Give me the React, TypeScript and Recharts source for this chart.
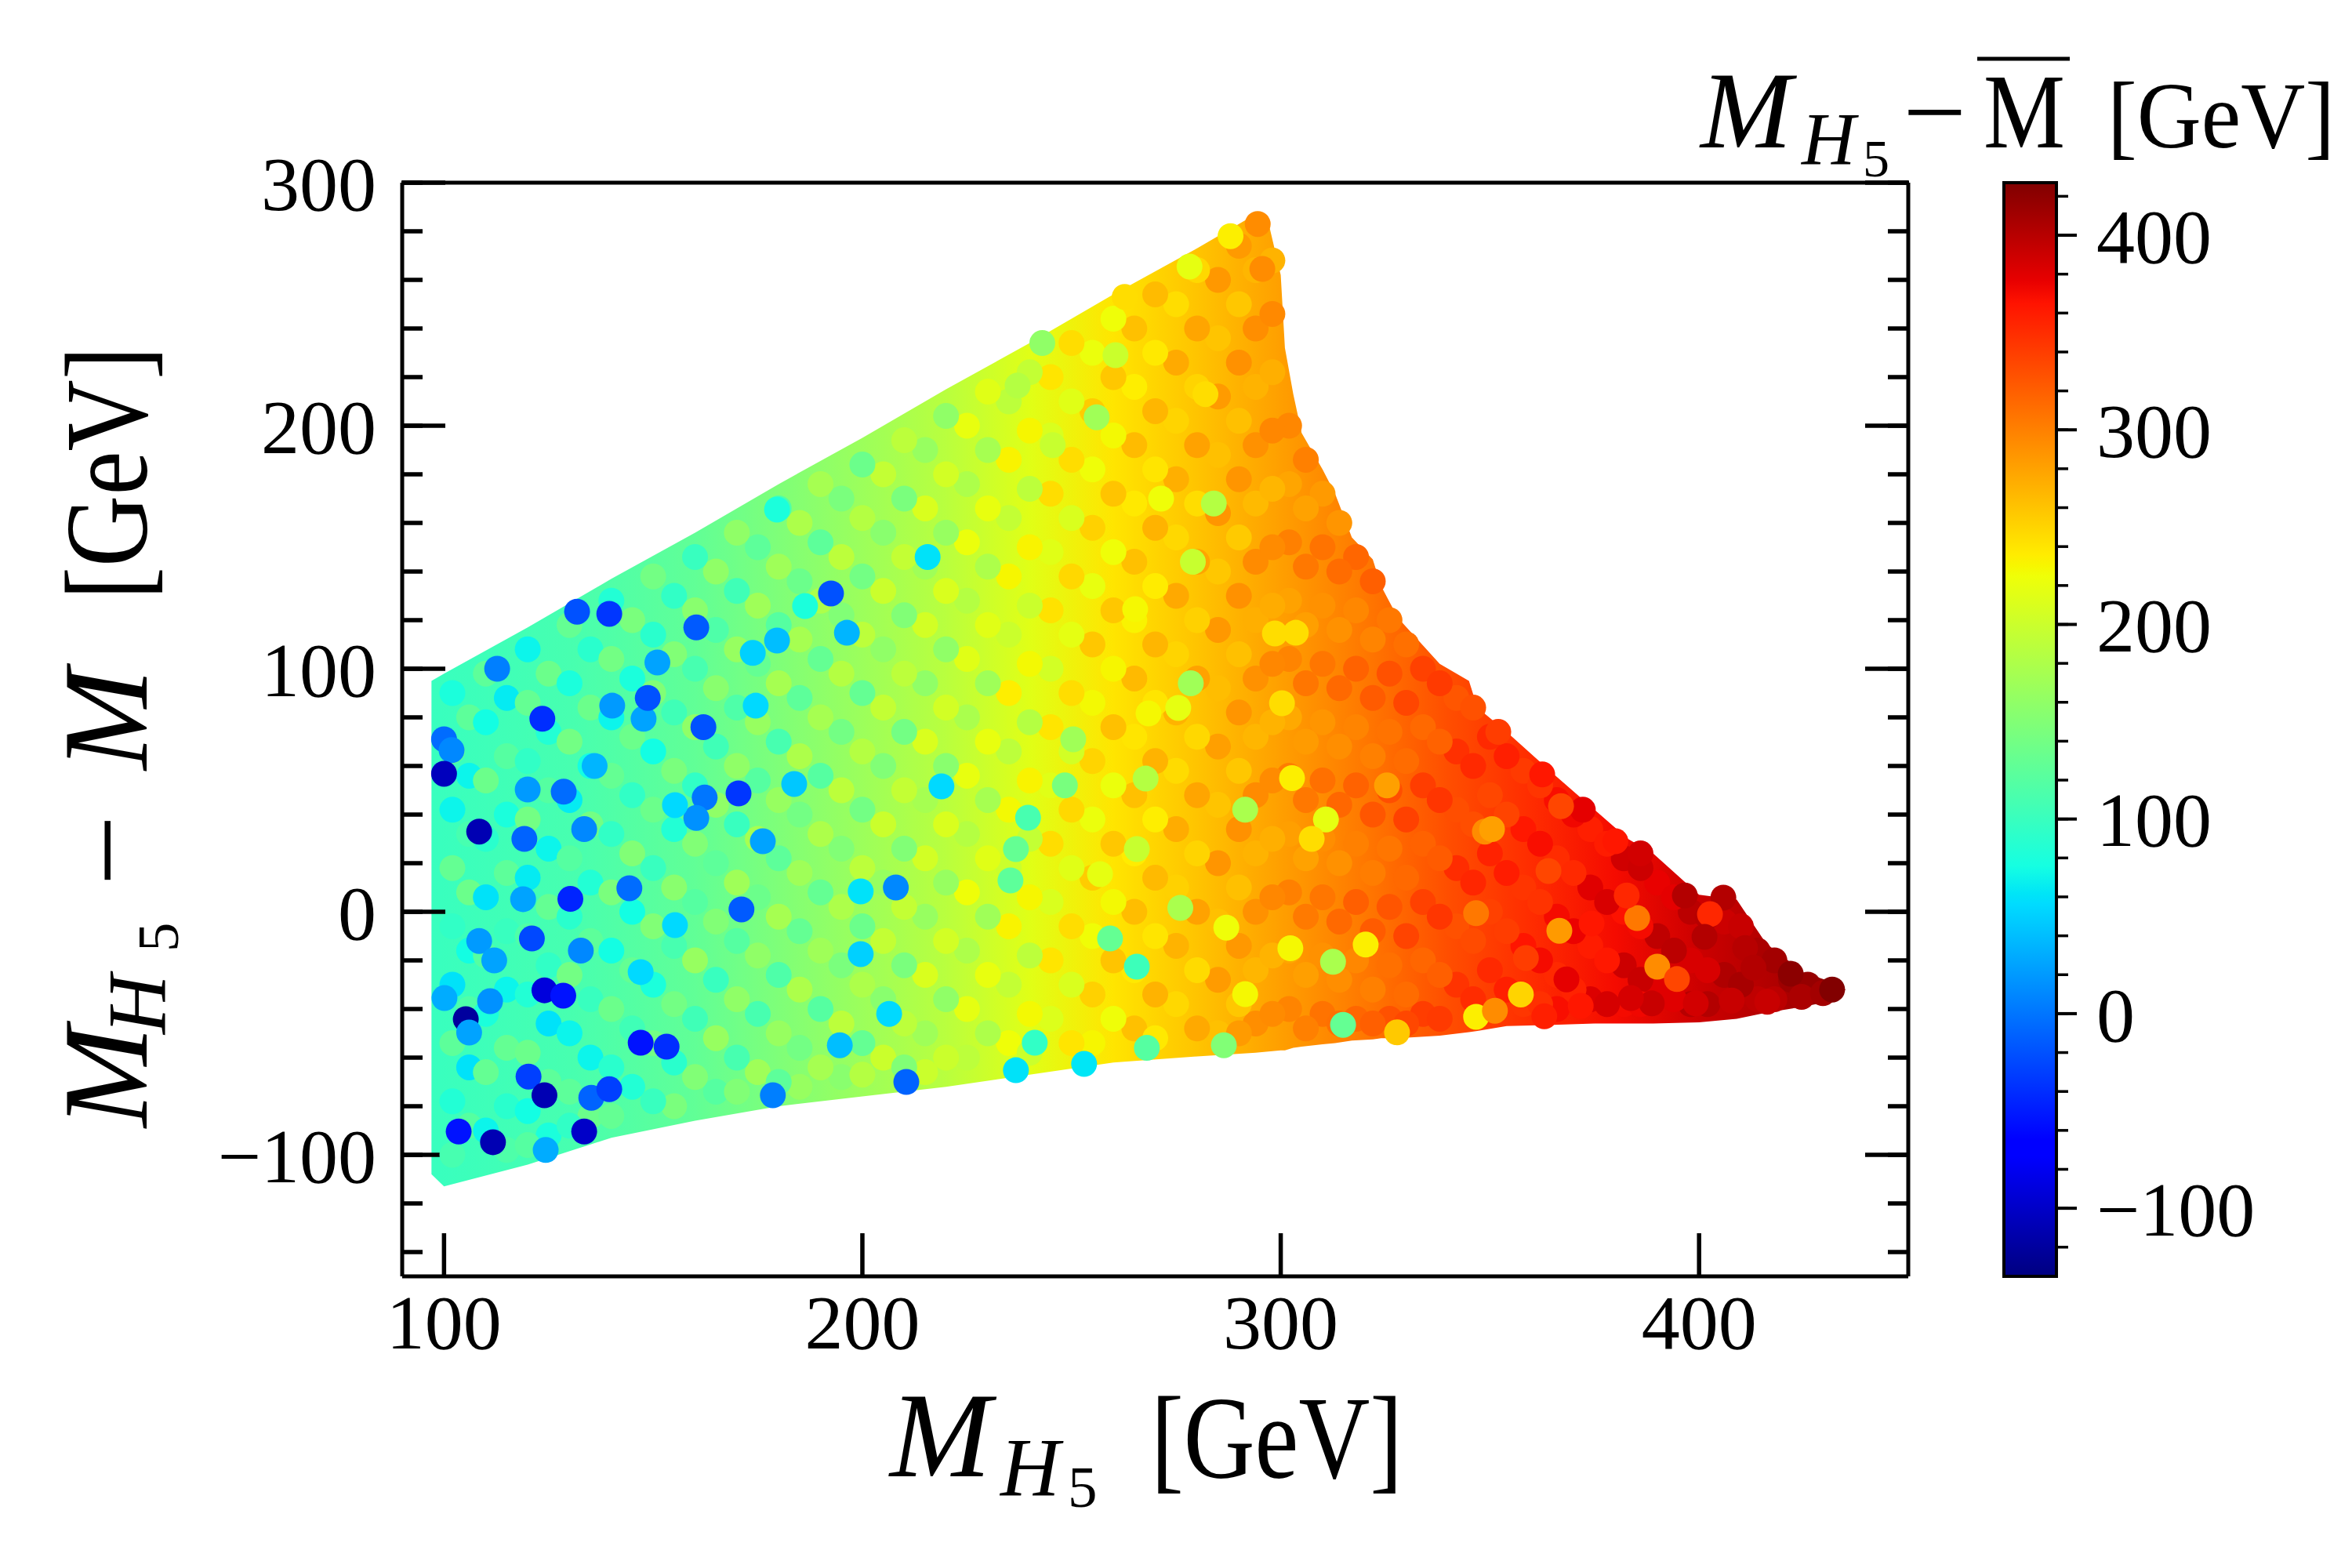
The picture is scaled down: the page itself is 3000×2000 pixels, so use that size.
import React from "react";
import { ComposedChart, Area, Scatter, XAxis, YAxis, ReferenceArea } from "recharts";

const FONT = "'Liberation Serif', 'DejaVu Serif', serif";

// colour bar limits
const CMIN = -135;
const CMAX = 427;

const xMajor = [100, 200, 300, 400];
const xMinor = [100, 120, 140, 160, 180, 200, 220, 240, 260, 280, 300, 320, 340, 360, 380, 400, 420, 440];
const yMajor = [-100, 0, 100, 200, 300];
const yMinor = [-140, -120, -100, -80, -60, -40, -20, 0, 20, 40, 60, 80, 100, 120, 140, 160, 180, 200, 220, 240, 260, 280, 300];
const cbMajor = [-100, 0, 100, 200, 300, 400];
const cbMinor = [-120, -100, -80, -60, -40, -20, 0, 20, 40, 60, 80, 100, 120, 140, 160, 180, 200, 220, 240, 260, 280, 300, 320, 340, 360, 380, 400, 420];

// outline of the populated region (M_H5, lower / upper edge)
const envX = [97, 100, 120, 140, 160, 180, 200, 220, 240, 260, 280, 294, 297, 300, 301, 303, 305, 310, 313, 317, 322, 324, 328, 338, 345, 347, 354, 365, 375, 383, 389, 400, 409, 416, 425, 432, 435];
const envHigh = [95, 98, 117, 137, 156, 176, 195, 215, 234, 254, 273, 287, 284, 262, 232, 213, 197, 182, 172, 154, 145, 134, 121, 102, 95, 84, 74, 57, 42, 30, 24, 7, 5, -13, -25, -29, -32];
const envLow = [-108, -113, -104, -93, -86, -80, -76, -72, -67, -62, -59.5, -58, -57.5, -57, -57, -56, -55.5, -54.5, -54, -53, -52.5, -52, -52, -51, -49.5, -49, -47, -46.5, -46, -46, -46, -45.5, -44, -41.5, -39, -36.5, -32];

// typical colour value across M_H5
const bgX = [97, 130, 160, 200, 220, 240, 260, 280, 300, 320, 340, 360, 380, 400, 420, 435];
const bgC = [100, 110, 128, 168, 188, 215, 240, 260, 282, 305, 330, 350, 370, 390, 405, 425];

// [M_H5, M_H5 - M, colour]
const fillPts = [
  [106, 80, 125], [106, 56, 70], [106, 32, 110], [106, 8, 135], [106, -16, 75], [106, -40, 115], [106, -64, 60], [106, -88, 120],
  [115, 88, 65], [115, 64, 120], [115, 40, 80], [115, 16, 125], [115, -8, 100], [115, -32, 70], [115, -56, 130], [115, -80, 90], [115, -98, 115],
  [125, 98, 135], [125, 74, 85], [125, 50, 120], [125, 26, 70], [125, 2, 130], [125, -22, 95], [125, -46, 60], [125, -70, 125], [125, -92, 80],
  [135, 108, 90], [135, 84, 135], [135, 60, 75], [135, 36, 140], [135, 12, 85], [135, -12, 125], [135, -36, 100], [135, -60, 70], [135, -84, 135],
  [145, 120, 145], [145, 96, 80], [145, 72, 135], [145, 48, 95], [145, 24, 150], [145, 0, 75], [145, -24, 130], [145, -48, 105], [145, -72, 85],
  [155, 130, 95], [155, 106, 150], [155, 82, 105], [155, 58, 145], [155, 34, 85], [155, 10, 155], [155, -14, 110], [155, -38, 140], [155, -62, 90], [155, -80, 145],
  [165, 140, 160], [165, 116, 115], [165, 92, 155], [165, 68, 105], [165, 44, 160], [165, 20, 125], [165, -4, 150], [165, -28, 100], [165, -52, 165], [165, -74, 120],
  [175, 150, 125], [175, 126, 170], [175, 102, 130], [175, 78, 165], [175, 54, 120], [175, 30, 175], [175, 6, 135], [175, -18, 160], [175, -42, 110], [175, -66, 170],
  [185, 160, 180], [185, 136, 135], [185, 112, 175], [185, 88, 125], [185, 64, 180], [185, 40, 140], [185, 16, 170], [185, -8, 130], [185, -32, 180], [185, -56, 140], [185, -72, 165],
  [195, 170, 145], [195, 146, 190], [195, 122, 150], [195, 98, 185], [195, 74, 140], [195, 50, 190], [195, 26, 150], [195, 2, 180], [195, -22, 145], [195, -46, 190], [195, -68, 155],
  [205, 180, 195], [205, 156, 155], [205, 132, 200], [205, 108, 160], [205, 84, 195], [205, 60, 150], [205, 36, 200], [205, 12, 165], [205, -12, 195], [205, -36, 155], [205, -60, 200],
  [215, 190, 165], [215, 166, 210], [215, 142, 170], [215, 118, 205], [215, 94, 160], [215, 70, 210], [215, 46, 175], [215, 22, 205], [215, -2, 165], [215, -26, 210], [215, -50, 170], [215, -66, 200],
  [225, 200, 220], [225, 176, 180], [225, 152, 222], [225, 128, 185], [225, 104, 215], [225, 80, 178], [225, 56, 220], [225, 32, 185], [225, 8, 225], [225, -16, 180], [225, -40, 218], [225, -60, 190],
  [235, 210, 190], [235, 186, 232], [235, 162, 195], [235, 138, 230], [235, 114, 200], [235, 90, 235], [235, 66, 190], [235, 42, 228], [235, 18, 200], [235, -6, 232], [235, -30, 195], [235, -54, 225],
  [245, 220, 240], [245, 196, 210], [245, 172, 245], [245, 148, 215], [245, 124, 242], [245, 100, 205], [245, 76, 240], [245, 52, 215], [245, 28, 245], [245, 4, 210], [245, -20, 240], [245, -44, 212],
  [255, 230, 222], [255, 206, 255], [255, 182, 225], [255, 158, 252], [255, 134, 220], [255, 110, 258], [255, 86, 228], [255, 62, 250], [255, 38, 222], [255, 14, 255], [255, -10, 226], [255, -34, 252], [255, -54, 230],
  [265, 240, 262], [265, 216, 235], [265, 192, 265], [265, 168, 238], [265, 144, 262], [265, 120, 232], [265, 96, 266], [265, 72, 240], [265, 48, 262], [265, 24, 236], [265, 0, 264], [265, -24, 238], [265, -48, 262],
  [275, 250, 245], [275, 226, 275], [275, 202, 250], [275, 178, 272], [275, 154, 248], [275, 130, 276], [275, 106, 250], [275, 82, 270], [275, 58, 246], [275, 34, 274], [275, 10, 252], [275, -14, 270], [275, -38, 248],
  [285, 260, 286], [285, 236, 260], [285, 212, 284], [285, 188, 262], [285, 164, 288], [285, 140, 258], [285, 116, 286], [285, 92, 264], [285, 68, 282], [285, 44, 260], [285, 20, 288], [285, -4, 262], [285, -28, 284], [285, -50, 262],
  [294, 264, 268], [294, 240, 292], [294, 216, 270], [294, 192, 290], [294, 168, 266], [294, 144, 294], [294, 120, 272], [294, 96, 290], [294, 72, 268], [294, 48, 294], [294, 24, 270], [294, 0, 290], [294, -24, 268], [294, -46, 292],
  [302, 200, 296], [302, 176, 278], [302, 152, 300], [302, 128, 280], [302, 104, 298], [302, 80, 276], [302, 56, 302], [302, 32, 282], [302, 8, 300], [302, -16, 278], [302, -40, 298],
  [310, 172, 285], [310, 150, 308], [310, 126, 290], [310, 102, 306], [310, 78, 288], [310, 54, 310], [310, 30, 292], [310, 6, 306], [310, -18, 290], [310, -42, 308],
  [318, 146, 316], [318, 124, 296], [318, 100, 318], [318, 76, 298], [318, 52, 318], [318, 28, 300], [318, 4, 320], [318, -20, 296], [318, -44, 316],
  [326, 120, 305], [326, 98, 328], [326, 74, 308], [326, 50, 330], [326, 26, 306], [326, 2, 326], [326, -22, 310], [326, -44, 328],
  [334, 100, 338], [334, 76, 314], [334, 52, 340], [334, 28, 318], [334, 4, 338], [334, -20, 316], [334, -42, 340],
  [342, 88, 325], [342, 66, 348], [342, 42, 330], [342, 18, 350], [342, -6, 328], [342, -30, 346],
  [350, 72, 352], [350, 48, 334], [350, 24, 356], [350, 0, 338], [350, -24, 352], [350, -42, 340],
  [358, 58, 342], [358, 34, 362], [358, 10, 345], [358, -14, 364], [358, -38, 344],
  [366, 46, 368], [366, 22, 350], [366, -2, 370], [366, -26, 352], [366, -40, 368],
  [374, 34, 358], [374, 10, 380], [374, -14, 360], [374, -36, 382],
  [382, 22, 388], [382, 0, 366], [382, -22, 390], [382, -38, 370],
  [390, 12, 376], [390, -10, 396], [390, -32, 380],
  [398, 0, 398], [398, -20, 384], [398, -38, 400],
  [406, -4, 390], [406, -26, 404],
  [414, -16, 406], [414, -36, 396],
  [422, -28, 412],
];

const leftPts = [
  [102, 90, 80], [102, 66, 120], [102, 42, 70], [102, 18, 130], [102, -6, 95], [102, -30, 60], [102, -54, 125], [102, -78, 85], [102, -100, 110],
  [110, 98, 125], [110, 78, 75], [110, 54, 135], [110, 30, 90], [110, 6, 60], [110, -18, 120], [110, -42, 80], [110, -66, 130], [110, -90, 70],
  [120, 108, 70], [120, 86, 130], [120, 62, 95], [120, 38, 140], [120, 14, 65], [120, -10, 115], [120, -34, 85], [120, -58, 135], [120, -82, 75], [120, -96, 120],
  [130, 118, 130], [130, 94, 80], [130, 70, 140], [130, 46, 65], [130, 22, 120], [130, -2, 90], [130, -26, 140], [130, -50, 70], [130, -74, 125], [130, -88, 95],
  [140, 128, 85], [140, 104, 140], [140, 80, 70], [140, 56, 130], [140, 32, 95], [140, 8, 145], [140, -16, 75], [140, -40, 135], [140, -64, 90], [140, -84, 130],
  [150, 138, 140], [150, 114, 90], [150, 90, 150], [150, 66, 75], [150, 42, 135], [150, 18, 100], [150, -6, 150], [150, -30, 80], [150, -54, 140], [150, -78, 100],
];

const midPts = [
  [160, 146, 100], [160, 124, 155], [160, 100, 110], [160, 76, 160], [160, 52, 95], [160, 28, 150], [160, 4, 120], [160, -20, 165], [160, -44, 105], [160, -68, 150],
  [170, 156, 160], [170, 132, 105], [170, 108, 165], [170, 84, 115], [170, 60, 160], [170, 36, 100], [170, 12, 170], [170, -12, 120], [170, -36, 160], [170, -60, 110], [170, -74, 150],
  [180, 166, 115], [180, 142, 170], [180, 118, 120], [180, 94, 175], [180, 70, 110], [180, 46, 165], [180, 22, 125], [180, -2, 175], [180, -26, 115], [180, -50, 165], [180, -70, 125],
  [190, 176, 175], [190, 152, 125], [190, 128, 180], [190, 104, 130], [190, 80, 175], [190, 56, 120], [190, 32, 180], [190, 8, 130], [190, -16, 170], [190, -40, 120], [190, -64, 175],
  [200, 184, 135], [200, 162, 185], [200, 138, 140], [200, 114, 190], [200, 90, 130], [200, 66, 185], [200, 42, 140], [200, 18, 190], [200, -6, 135], [200, -30, 180], [200, -54, 130], [200, -67, 185],
  [210, 194, 190], [210, 170, 145], [210, 146, 195], [210, 122, 150], [210, 98, 190], [210, 74, 140], [210, 50, 195], [210, 26, 150], [210, 2, 195], [210, -22, 145], [210, -46, 190], [210, -64, 150],
  [220, 204, 160], [220, 180, 205], [220, 156, 165], [220, 132, 210], [220, 108, 160], [220, 84, 205], [220, 60, 155], [220, 36, 210], [220, 12, 165], [220, -12, 205], [220, -36, 160], [220, -60, 200],
  [230, 214, 215], [230, 190, 175], [230, 166, 220], [230, 142, 180], [230, 118, 215], [230, 94, 170], [230, 70, 220], [230, 46, 175], [230, 22, 215], [230, -2, 170], [230, -26, 220], [230, -50, 180],
  [240, 222, 195], [240, 198, 230], [240, 174, 190], [240, 150, 232], [240, 126, 200], [240, 102, 228], [240, 78, 185], [240, 54, 232], [240, 30, 195], [240, 6, 230], [240, -18, 190], [240, -42, 228], [240, -58, 200],
];

const upperPts = [
  [250, 234, 245], [250, 210, 215], [250, 186, 245], [250, 162, 210], [250, 138, 248], [250, 114, 218], [250, 90, 245], [250, 66, 205], [250, 42, 248], [250, 18, 215], [250, -6, 245], [250, -30, 210], [250, -54, 240],
  [260, 244, 225], [260, 220, 258], [260, 196, 228], [260, 172, 260], [260, 148, 225], [260, 124, 258], [260, 100, 230], [260, 76, 262], [260, 52, 222], [260, 28, 258], [260, 4, 228], [260, -20, 260], [260, -44, 225],
  [270, 254, 265], [270, 230, 238], [270, 206, 268], [270, 182, 240], [270, 158, 270], [270, 134, 236], [270, 110, 268], [270, 86, 240], [270, 62, 270], [270, 38, 235], [270, 14, 266], [270, -10, 240], [270, -34, 270], [270, -52, 238],
  [280, 264, 248], [280, 240, 278], [280, 216, 250], [280, 192, 280], [280, 168, 245], [280, 144, 278], [280, 120, 252], [280, 96, 280], [280, 72, 248], [280, 48, 278], [280, 24, 250], [280, 0, 280], [280, -24, 246], [280, -48, 276],
  [290, 274, 285], [290, 250, 258], [290, 226, 290], [290, 202, 262], [290, 178, 288], [290, 154, 256], [290, 130, 290], [290, 106, 262], [290, 82, 288], [290, 58, 258], [290, 34, 290], [290, 10, 262], [290, -14, 286], [290, -38, 258], [290, -50, 284],
  [298, 268, 270], [298, 246, 295], [298, 222, 272], [298, 198, 296], [298, 174, 268], [298, 150, 294], [298, 126, 274], [298, 102, 296], [298, 78, 270], [298, 54, 294], [298, 30, 272], [298, 6, 296], [298, -18, 270], [298, -42, 294],
];

const rightPts = [
  [306, 186, 300], [306, 166, 280], [306, 142, 305], [306, 118, 282], [306, 94, 306], [306, 70, 284], [306, 46, 305], [306, 22, 280], [306, -2, 304], [306, -26, 282], [306, -48, 300],
  [314, 160, 288], [314, 140, 312], [314, 116, 290], [314, 92, 314], [314, 68, 292], [314, 44, 315], [314, 20, 290], [314, -4, 314], [314, -28, 292], [314, -46, 310],
  [322, 136, 320], [322, 112, 298], [322, 88, 322], [322, 64, 300], [322, 40, 325], [322, 16, 302], [322, -8, 322], [322, -32, 300], [322, -46, 320],
  [330, 110, 310], [330, 86, 335], [330, 62, 312], [330, 38, 338], [330, 14, 314], [330, -10, 336], [330, -34, 312], [330, -46, 334],
  [338, 94, 342], [338, 70, 318], [338, 46, 345], [338, 22, 322], [338, -2, 344], [338, -26, 320], [338, -44, 342],
  [346, 84, 328], [346, 60, 352], [346, 36, 330], [346, 12, 354], [346, -12, 332], [346, -36, 350],
  [354, 64, 358], [354, 40, 336], [354, 16, 360], [354, -8, 340], [354, -32, 358],
  [362, 52, 345], [362, 28, 368], [362, 4, 346], [362, -20, 370], [362, -38, 348],
  [370, 40, 372], [370, 16, 352], [370, -8, 375], [370, -32, 356],
  [378, 28, 360], [378, 4, 384], [378, -20, 362], [378, -38, 385],
  [386, 18, 390], [386, -6, 370], [386, -28, 392], [386, -38, 372],
  [394, 6, 378], [394, -16, 398], [394, -36, 380],
  [402, -2, 400], [402, -24, 384], [402, -38, 402],
  [410, -6, 392], [410, -30, 408],
  [418, -20, 410], [418, -36, 398],
  [426, -30, 416],
];

const bluePts = [
  [179.6, 165.5, 80], [160.3, 117, -15], [196.3, 114.8, 35], [186.3, 125.8, 80], [192.5, 131, -20], [215.6, 146, 60], [112.7, 100, 5], [151, 102.6, 25],
  [173.8, 106.5, 50], [179.6, 111.6, 40], [140.2, 84.8, 20], [147.7, 79.4, 25], [148.7, 88, -20], [123.5, 79.4, -40], [100, 71, -5], [101.8, 66.5, 10],
  [100, 56.8, -105], [136, 60, 35], [128.6, 49.4, -5], [120, 50.3, 20], [108.4, 33, -110], [133.5, 34, 10], [119.2, 30, -10], [170.4, 48.7, -35],
  [162.3, 47, 0], [160.3, 38.6, 15], [176.2, 29, 25], [183.7, 52.6, 45], [155.2, 43.9, 55], [174.5, 84.8, 55], [218.9, 51.6, 55], [139.5, 122.6, -35],
  [131.8, 123.5, -20], [162, 76, -20], [130.2, 5.3, -45], [144.3, 9.7, -5], [171.1, 1, -15], [118.9, 5.2, 25], [121, -11, -25], [132.7, -16, 10],
  [124, -32.3, -90], [128.5, -34.5, -55], [100.1, -35.5, 30], [105.2, -44.2, -120], [147, -53.9, -55], [153.2, -55.5, -40], [194.6, -54.9, 40], [206.4, -42, 55],
  [120.2, -67.8, -30], [124, -75.5, -110], [135.2, -76.5, -10], [139.5, -73, -30], [103.5, -90.4, -55], [111.7, -94.8, -110], [133.5, -90.4, -100], [124.3, -98, 30],
  [210.5, -70, -10], [178.6, -75.5, 5], [199.6, -17.4, 50], [199.6, 8.4, 60], [155.2, -5.5, 55], [147, -24.8, 55], [108.4, -12, 20], [112, -20, 25],
  [111, -36.8, 15], [106, -49.7, 25], [208, 10, 10], [236.7, -65.2, 60], [253, -62.6, 62], [241.2, -53.9, 95],
];

const brightPts = [
  [260.5, 229, 200], [256, 203.5, 171], [237.1, 216.5, 185], [284, 168, 185], [278.2, 265.5, 219], [288, 278, 234], [271.4, 170, 225], [282, 213, 245],
  [245.5, 192, 198], [279, 144, 198], [243, 234, 160], [262.7, 253, 245], [239.6, 38.7, 110], [236.7, 25.8, 130], [235.4, 12.9, 125], [248.4, 52, 144],
  [250.4, 71, 171], [278.5, 94, 171], [267.7, 54.8, 185], [291.5, 42, 178], [310.8, 38, 219], [302.7, 55, 234], [307.4, 30, 245], [276, 1.6, 178],
  [302.3, -15, 229], [320.3, -13.5, 234], [287, -6.5, 225], [265.6, 25.8, 198], [256.8, 15.5, 219], [268.4, 81.6, 229], [275.5, 83.9, 219], [265.2, 124.5, 229],
  [298.6, 114.5, 245], [303.6, 114.8, 245], [300.3, 85.8, 245], [312.5, -20.6, 178], [265.6, -22.6, 103], [259.2, -11, 130], [268, -56, 120], [286.4, -54.9, 150],
  [314.9, -46.5, 130], [291.5, -33.9, 229], [327.8, -49.6, 257], [346.7, -43.2, 234], [357.4, -34, 250],
];

const redPts = [
  [294.5, 283, 293], [295.6, 264.5, 293], [325.4, 52, 281], [348.8, 33, 293], [346.7, -0.6, 305], [385.2, -2.6, 305], [366.6, -7.8, 285], [390, -22.6, 293],
  [394.7, -27.7, 335], [405.8, 5.8, 402], [396.6, 6.7, 402], [386, 24, 387], [380, 29, 363], [372.2, 42, 378], [402.6, -1, 353], [401.3, -10.3, 402],
  [411, -14.9, 400], [413, -23, 402], [421.9, -25.5, 421], [424.5, -35, 406], [416.3, -37, 392], [407.8, -36.5, 392], [399.2, -37.7, 387], [388.7, -37.7, 392],
  [383.7, -35.5, 385], [371.7, -38.7, 363], [363, -43, 358], [351.2, -40.7, 293], [364, 16.8, 335], [362.5, 56.5, 363], [352, 74, 340], [367, 43.5, 335],
  [374.3, -4.8, 363], [382.7, 6.7, 353], [358.6, -19, 340], [368.3, -27.8, 378], [350.5, 34, 281], [429.6, -33.5, 410], [431.8, -32, 426],
];

// matplotlib "jet" colour map
const JET_R = [[0, 0], [0.35, 0], [0.66, 1], [0.89, 1], [1, 0.5]];
const JET_G = [[0, 0], [0.125, 0], [0.375, 1], [0.64, 1], [0.91, 0], [1, 0]];
const JET_B = [[0, 0.5], [0.11, 1], [0.34, 1], [0.65, 0], [1, 0]];
const JET_BREAKS = [0, 0.11, 0.125, 0.34, 0.35, 0.375, 0.64, 0.65, 0.66, 0.89, 0.91, 1];

function channel(t: number, pts: number[][]) {
  for (let i = 1; i < pts.length; i++) {
    if (t <= pts[i][0]) {
      const [t0, v0] = pts[i - 1];
      const [t1, v1] = pts[i];
      return v0 + ((t - t0) / (t1 - t0)) * (v1 - v0);
    }
  }
  return pts[pts.length - 1][1];
}

function jetAt(t: number) {
  const u = Math.min(1, Math.max(0, t));
  const r = Math.round(channel(u, JET_R) * 255);
  const g = Math.round(channel(u, JET_G) * 255);
  const b = Math.round(channel(u, JET_B) * 255);
  return `rgb(${r},${g},${b})`;
}

const jet = (c: number) => jetAt((c - CMIN) / (CMAX - CMIN));

const envelope = envX.map((x, i) => ({ x, band: [envLow[i], envHigh[i]] }));
const points = [...fillPts, ...leftPts, ...midPts, ...upperPts, ...rightPts, ...bluePts, ...brightPts, ...redPts].map(
  ([x, y, c]) => ({ x, y, c })
);
const cbarRows = [
  { x: 0, band: [CMIN, CMAX] },
  { x: 1, band: [CMIN, CMAX] },
];

const fmt = (v: number) => (v < 0 ? `\u2212${-v}` : `${v}`);
const tickFont = { fontSize: 98, fill: "#000", fontFamily: FONT };
const frame = { stroke: "#000", strokeWidth: 5 };
const tickStroke = { stroke: "#000", strokeWidth: 5.5 };
const noLabel = () => <g />;

const Dot = (p: any) => <circle cx={p.cx} cy={p.cy} r={16.5} fill={jet(p.payload.c)} />;

const layer: React.CSSProperties = { position: "absolute", left: 0, top: 0 };

export default function App() {
  const x0 = bgX[0];
  const x1 = bgX[bgX.length - 1];
  return (
    <div style={{ position: "relative", width: 3000, height: 2000, background: "#fff" }}>
      <style>{"body{margin:0}"}</style>

      <div style={layer}>
        <ComposedChart width={3000} height={2000} data={envelope} margin={{ top: 231, right: 564, bottom: 370, left: 511 }}>
          <defs>
            <linearGradient id="bgFill" x1="0" y1="0" x2="1" y2="0">
              {bgX.map((x, i) => (
                <stop key={i} offset={(x - x0) / (x1 - x0)} stopColor={jet(bgC[i])} />
              ))}
            </linearGradient>
          </defs>
          <Area xAxisId="b" yAxisId="l" dataKey="band" type="linear" stroke="none" fill="url(#bgFill)" fillOpacity={1} dot={false} activeDot={false} isAnimationActive={false} />
          <Scatter xAxisId="b" yAxisId="l" data={points} dataKey="y" shape={Dot} isAnimationActive={false} />

          <XAxis xAxisId="b" dataKey="x" type="number" domain={[90, 450]} allowDataOverflow ticks={xMajor} interval={0} height={1}
            tickSize={-55} tickMargin={77} tick={tickFont} axisLine={frame} tickLine={tickStroke} />
          <XAxis xAxisId="bm" type="number" domain={[90, 450]} allowDataOverflow ticks={xMinor} interval={0} height={1}
            tickSize={-27} tick={noLabel} axisLine={false} tickLine={tickStroke} />
          <XAxis xAxisId="t" orientation="top" type="number" domain={[90, 450]} allowDataOverflow ticks={xMajor} interval={0} height={1}
            tickSize={-55} tick={noLabel} axisLine={frame} tickLine={tickStroke} />
          <XAxis xAxisId="tm" orientation="top" type="number" domain={[90, 450]} allowDataOverflow ticks={xMinor} interval={0} height={1}
            tickSize={-27} tick={noLabel} axisLine={false} tickLine={tickStroke} />
          <YAxis yAxisId="l" type="number" domain={[-150, 300]} allowDataOverflow ticks={yMajor} interval={0} width={1}
            tickSize={-55} tickMargin={88} tick={tickFont} tickFormatter={fmt} axisLine={frame} tickLine={tickStroke} />
          <YAxis yAxisId="lm" type="number" domain={[-150, 300]} allowDataOverflow ticks={yMinor} interval={0} width={1}
            tickSize={-27} tick={noLabel} axisLine={false} tickLine={tickStroke} />
          <YAxis yAxisId="r" orientation="right" type="number" domain={[-150, 300]} allowDataOverflow ticks={yMajor} interval={0} width={1}
            tickSize={-55} tick={noLabel} axisLine={frame} tickLine={tickStroke} />
          <YAxis yAxisId="rm" orientation="right" type="number" domain={[-150, 300]} allowDataOverflow ticks={yMinor} interval={0} width={1}
            tickSize={-27} tick={noLabel} axisLine={false} tickLine={tickStroke} />
        </ComposedChart>
      </div>

      <div style={layer}>
        <ComposedChart width={3000} height={2000} data={cbarRows} margin={{ top: 233, right: 375, bottom: 372, left: 2556 }}>
          <defs>
            <linearGradient id="jetV" x1="0" y1="1" x2="0" y2="0">
              {JET_BREAKS.map((t, i) => (
                <stop key={i} offset={t} stopColor={jetAt(t)} />
              ))}
            </linearGradient>
          </defs>
          <XAxis dataKey="x" type="number" domain={[0, 1]} hide />
          <Area yAxisId="c" dataKey="band" type="linear" stroke="none" fill="url(#jetV)" fillOpacity={1} dot={false} activeDot={false} isAnimationActive={false} />
          <ReferenceArea yAxisId="c" x1={0} x2={1} y1={CMIN} y2={CMAX} fill="none" fillOpacity={0} stroke="#000" strokeWidth={4} />
          <YAxis yAxisId="c" orientation="right" type="number" domain={[CMIN, CMAX]} allowDataOverflow ticks={cbMajor} interval={0} width={1}
            tickSize={26} tickMargin={25} tick={{ ...tickFont, textAnchor: "start" }} tickFormatter={fmt} axisLine={false} tickLine={{ stroke: "#000", strokeWidth: 4 }} />
          <YAxis yAxisId="cm" orientation="right" type="number" domain={[CMIN, CMAX]} allowDataOverflow ticks={cbMinor} interval={0} width={1}
            tickSize={14} tick={noLabel} axisLine={false} tickLine={{ stroke: "#000", strokeWidth: 3.5 }} />
        </ComposedChart>
      </div>

      <svg width={3000} height={2000} style={layer} fontFamily={FONT} fill="#000">
        {/* x axis title */}
        <text x={1135} y={1883} fontSize={155} fontStyle="italic">M</text>
        <text x={1276} y={1907} fontSize={105} fontStyle="italic">H</text>
        <text x={1362} y={1922} fontSize={75}>5</text>
        <text x={1468} y={1885} fontSize={150} textLength={321} lengthAdjust="spacingAndGlyphs">[GeV]</text>

        {/* y axis title */}
        <g transform="rotate(-90)">
          <text x={-1438} y={187} fontSize={155} fontStyle="italic">M</text>
          <text x={-1319} y={210} fontSize={105} fontStyle="italic">H</text>
          <text x={-1214} y={227} fontSize={75}>5</text>
          <text x={-1130} y={187} fontSize={150} textLength={91} lengthAdjust="spacingAndGlyphs">{"\u2212"}</text>
          <text x={-982} y={187} fontSize={155} fontStyle="italic">M</text>
          <text x={-765} y={187} fontSize={150} textLength={323} lengthAdjust="spacingAndGlyphs">[GeV]</text>
        </g>

        {/* colour bar title */}
        <text x={2169} y={188} fontSize={140} fontStyle="italic">M</text>
        <text x={2298} y={210} fontSize={95} fontStyle="italic">H</text>
        <text x={2376} y={225} fontSize={68}>5</text>
        <text x={2427} y={188} fontSize={135} textLength={81} lengthAdjust="spacingAndGlyphs">{"\u2212"}</text>
        <text x={2530} y={188} fontSize={135} textLength={104} lengthAdjust="spacingAndGlyphs">M</text>
        <line x1={2522} y1={75} x2={2640} y2={75} stroke="#000" strokeWidth={5} />
        <text x={2688} y={188} fontSize={120} textLength={290} lengthAdjust="spacingAndGlyphs">[GeV]</text>
      </svg>
    </div>
  );
}
